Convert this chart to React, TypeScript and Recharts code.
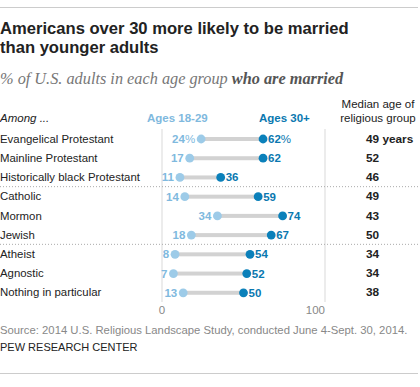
import { ComposedChart, Bar, XAxis, YAxis, CartesianGrid } from "recharts";

const groups = [
  "Evangelical Protestant",
  "Mainline Protestant",
  "Historically black Protestant",
  "Catholic",
  "Mormon",
  "Jewish",
  "Atheist",
  "Agnostic",
  "Nothing in particular",
];
const ages18to29 = [24, 17, 11, 14, 34, 18, 8, 7, 13];
const ages30plus = [62, 62, 36, 59, 74, 67, 54, 52, 50];
const medianAges = ["49 years", "52", "46", "49", "43", "50", "34", "34", "38"];
// a dotted rule goes above each of these rows
const groupStarts = ["Catholic", "Atheist"];
const xTicks = [0, 100];

const data = groups.map((group, i) => ({
  group,
  young: ages18to29[i],
  old: ages30plus[i],
  median: medianAges[i],
}));

const SANS = '"Liberation Sans", Arial, sans-serif';
const SERIF = '"Liberation Serif", Georgia, serif';
const LIGHT = "#9dcbe8";
const LIGHT_TEXT = "#7fb9de";
const DARK = "#0b80ba";
const DARK_TEXT = "#0a78b0";
const BAR_GRAY = "#d2d2d2";
const INK = "#222";

const W = 420;
const CHART_H = 320;
const PLOT_TOP = 129;
const AXIS_H = 18;
const BAND = (CHART_H - PLOT_TOP - AXIS_H) / groups.length;

const RowTick = (props: any) => {
  const { y, payload, index } = props;
  const half = payload?.offset ?? BAND / 2;
  const name = payload.value;
  return (
    <g>
      {groupStarts.includes(name) && (
        <line x1={0} x2={W} y1={y - half} y2={y - half} stroke="#aaa" strokeDasharray="1 2" />
      )}
      <text x={0} y={y} dominantBaseline="central" fontFamily={SANS} fontSize={11.4} fill={INK}>
        {name}
      </text>
      <text x={366} y={y} dominantBaseline="central" fontFamily={SANS} fontSize={11.8} fontWeight="bold" fill={INK}>
        {medianAges[index]}
      </text>
    </g>
  );
};

const AxisTick = (props: any) => {
  const { x, y, payload } = props;
  return (
    <text
      x={x}
      y={y}
      textAnchor={payload.value === 100 ? "end" : "middle"}
      dominantBaseline="central"
      fontFamily={SANS}
      fontSize={11.5}
      fill="#888"
    >
      {payload.value}
    </text>
  );
};

const Dumbbell = (props: any) => {
  const { x, y, width, height, payload } = props;
  const cy = y + height / 2;
  const x0 = x;
  const x1 = x + width;
  const first = payload.group === groups[0];
  return (
    <g>
      <rect x={x0} y={cy - 2} width={x1 - x0} height={4} fill={BAR_GRAY} />
      <circle cx={x0} cy={cy} r={4.4} fill={LIGHT} />
      <circle cx={x1} cy={cy} r={4.4} fill={DARK} />
      <text x={x0 - 6} y={cy} textAnchor="end" dominantBaseline="central" fontFamily={SANS} fontSize={11.5} fontWeight="bold" fill={LIGHT_TEXT}>
        {payload.young}
        {first && <tspan fontWeight="normal">%</tspan>}
      </text>
      <text x={x1 + 5} y={cy} dominantBaseline="central" fontFamily={SANS} fontSize={11.5} fontWeight="bold" fill={DARK_TEXT}>
        {payload.old}
        {first && <tspan fontWeight="normal">%</tspan>}
      </text>
    </g>
  );
};

const abs = (top: number, left: number, extra: any = {}) => ({
  position: "absolute" as const,
  top,
  left,
  margin: 0,
  whiteSpace: "nowrap" as const,
  ...extra,
});

export default function App() {
  return (
    <div style={{ position: "absolute", left: 0, top: 0, width: W, height: 387, background: "#fff", overflow: "hidden", fontFamily: SANS }}>
      <div style={abs(7, 0, { width: 418, height: 1, background: "#ccc" })} />
      <div style={abs(19, 0, { fontSize: 16.6, lineHeight: "19px", fontWeight: "bold", color: INK })}>
        Americans over 30 more likely to be married
        <br />
        than younger adults
      </div>
      <div style={abs(70, 0, { fontFamily: SERIF, fontStyle: "italic", fontSize: 16.3, lineHeight: "18px", color: "#777" })}>
        % of U.S. adults in each age group <b style={{ color: "#555" }}>who are married</b>
      </div>

      <ComposedChart
        width={W}
        height={CHART_H}
        data={data}
        layout="vertical"
        margin={{ top: PLOT_TOP, right: 0, bottom: 0, left: 0 }}
        style={{ position: "absolute", top: 0, left: 0 }}
      >
        <CartesianGrid horizontal={false} stroke="#d9d9d9" />
        <XAxis type="number" domain={[0, 100]} ticks={xTicks} height={AXIS_H} axisLine={false} tickLine={false} tick={<AxisTick />} />
        <YAxis type="category" dataKey="group" width={162} axisLine={false} tickLine={false} interval={0} tick={<RowTick />} />
        <YAxis yAxisId="pad" orientation="right" width={95} axisLine={false} tickLine={false} tick={false} />
        <Bar dataKey={(d: any) => [d.young, d.old]} barSize={8} isAnimationActive={false} shape={<Dumbbell />} />
      </ComposedChart>

      <div style={abs(110, 0, { fontSize: 11.5, lineHeight: "16px", fontStyle: "italic", color: INK })}>Among ...</div>
      <div style={abs(110, 147, { fontSize: 11.5, lineHeight: "16px", fontWeight: "bold", color: LIGHT_TEXT })}>Ages 18-29</div>
      <div style={abs(110, 259, { fontSize: 11.5, lineHeight: "16px", fontWeight: "bold", color: DARK_TEXT })}>Ages 30+</div>
      <div style={abs(98, 335, { width: 86, textAlign: "center", fontSize: 11.5, lineHeight: "13.5px", color: INK })}>
        Median age of
        <br />
        religious group
      </div>

      <div style={abs(322, 0, { fontSize: 11.3, lineHeight: "16px", color: "#888" })}>
        Source: 2014 U.S. Religious Landscape Study, conducted June 4-Sept. 30, 2014.
      </div>
      <div style={abs(339, 0, { fontSize: 11, lineHeight: "16px", color: INK })}>PEW RESEARCH CENTER</div>
      <div style={abs(373, 0, { width: 418, height: 1, background: "#ccc" })} />
    </div>
  );
}
